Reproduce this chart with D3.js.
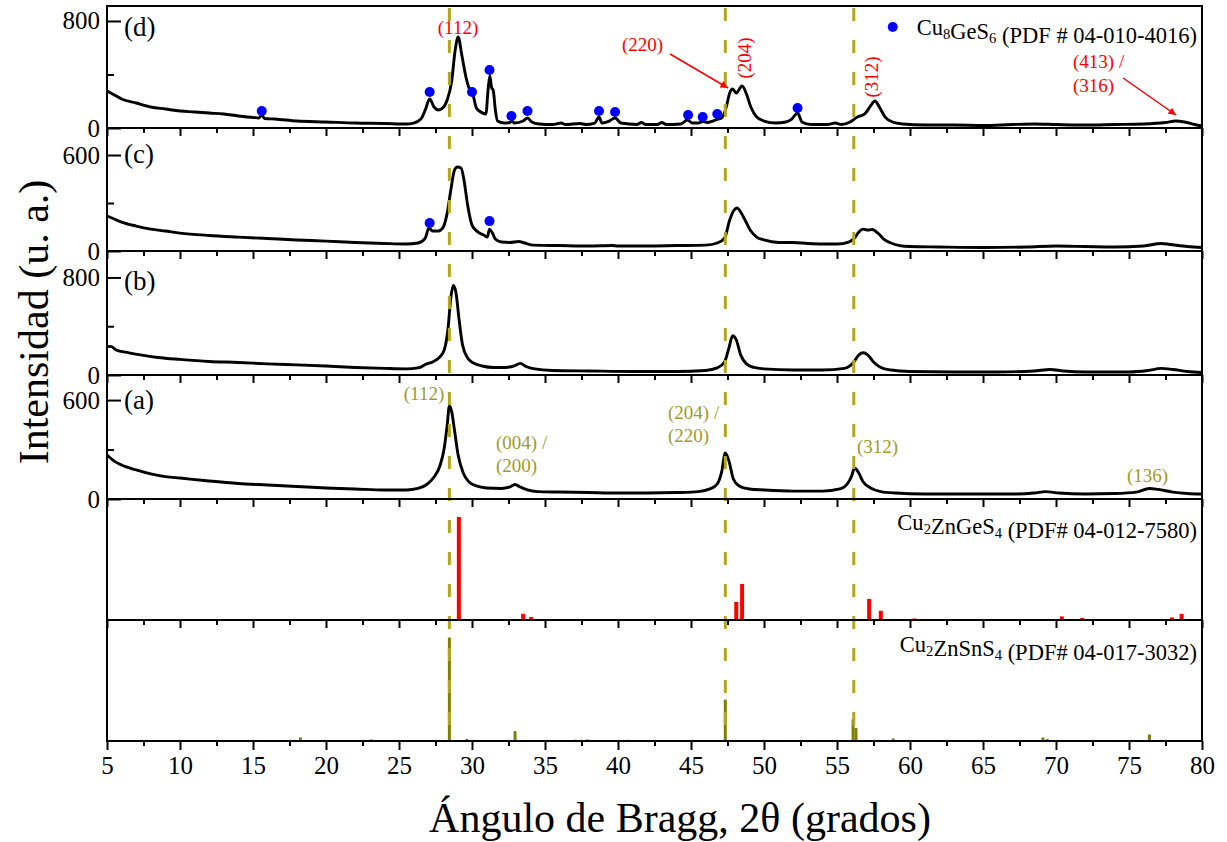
<!DOCTYPE html>
<html><head><meta charset="utf-8">
<script src="https://cdn.jsdelivr.net/npm/d3@7"></script>
<style>
body{margin:0;background:#fff}
svg text{font-family:'Liberation Serif',Tinos,'Times New Roman',Times,serif !important}
</style>
</head><body>
<svg id="chart" width="1227" height="842"></svg>
<script>
// ---------- DATA (2θ in degrees, intensity in a.u.) ----------
const patternD = [[5,277],[5.5,247],[6,217],[7,187],[8,157],[9,142],[10,127],[11,120],[12,112],[13,105],[14,90],[15,79],[15.4,75],[15.6,97],[15.8,71],[16.5,67],[18,52],[20,45],[22,37],[24,34],[25.5,30],[26,37],[26.5,67],[26.8,135],[27.1,217],[27.4,157],[27.7,135],[28,150],[28.3,209],[28.6,344],[28.85,583],[29.05,681],[29.3,546],[29.6,374],[29.85,284],[30.05,254],[30.3,150],[30.6,120],[30.95,105],[31.1,284],[31.22,389],[31.35,299],[31.45,284],[31.6,135],[31.75,52],[32.2,37],[32.6,41],[32.75,52],[32.9,37],[33.5,52],[33.8,75],[34.1,45],[34.6,30],[35.5,26],[36.1,37],[36.4,26],[37.4,34],[37.8,26],[38.4,37],[38.7,82],[38.9,37],[39.4,52],[39.8,75],[40.2,37],[41.3,26],[41.6,41],[41.9,26],[42.7,26],[43,41],[43.3,26],[44.3,30],[44.75,60],[45.1,37],[45.5,37],[45.8,49],[46.1,41],[46.5,52],[46.85,67],[47.1,75],[47.4,150],[47.65,262],[47.85,292],[48.1,262],[48.5,314],[48.8,254],[49.1,157],[49.5,82],[50,52],[50.8,37],[51.5,45],[51.9,67],[52.3,112],[52.6,45],[53.2,26],[54.3,26],[54.9,37],[55.3,26],[55.9,45],[56.4,82],[56.9,105],[57.3,165],[57.6,202],[57.9,157],[58.3,82],[58.8,45],[59.5,30],[61,22],[63,22],[65,19],[67,26],[68.5,30],[70,26],[72,22],[74,26],[76,30],[77.5,41],[78.2,52],[78.8,45],[79.5,26],[80,15]];
const patternC = [[5,219],[5.5,200],[6,181],[7,156],[8,137],[9,125],[10,112],[12,97],[14,87],[16,78],[18,69],[20,62],[22,53],[24,47],[25.5,44],[26.3,50],[26.8,81],[27.05,144],[27.3,125],[27.7,125],[28,144],[28.3,237],[28.55,381],[28.8,506],[29,525],[29.25,519],[29.45,444],[29.7,287],[30,162],[30.4,119],[30.8,100],[31.05,87],[31.2,137],[31.4,112],[31.6,75],[32,56],[32.6,53],[33.2,59],[33.6,50],[34.2,37],[36,34],[38,31],[39.6,34],[40,31],[42,31],[44,34],[46,37],[46.8,50],[47.3,81],[47.65,194],[47.95,256],[48.15,269],[48.4,244],[48.7,194],[49.1,125],[49.5,87],[50,69],[51,53],[52,53],[53,47],[54,44],[55,44],[55.8,56],[56.2,81],[56.5,119],[56.8,137],[57.1,131],[57.4,134],[57.8,112],[58.2,75],[58.7,50],[59.3,34],[60,28],[62,25],[65,22],[68,25],[70,31],[72,28],[74,25],[76,31],[77.2,47],[77.8,41],[79,28],[80,22]];
const patternB = [[5,235],[5.3,233],[5.6,206],[6.5,182],[7.5,161],[8.5,144],[10,128],[12,111],[14,103],[16,91],[18,83],[20,74],[22,62],[24,54],[25.5,50],[26.3,58],[26.9,91],[27.3,107],[27.8,149],[28.1,206],[28.35,371],[28.55,635],[28.72,734],[28.9,677],[29.1,470],[29.35,248],[29.7,140],[30.1,99],[30.7,74],[31.5,62],[32.3,62],[32.9,74],[33.3,95],[33.7,70],[34.3,50],[35.5,37],[38,33],[41,29],[44,29],[46,37],[46.8,58],[47.3,107],[47.6,223],[47.85,322],[48.1,289],[48.4,165],[48.8,91],[49.3,62],[50,50],[52,41],[54,41],[55.5,54],[56.1,99],[56.5,165],[56.8,182],[57.1,165],[57.5,107],[58,62],[58.7,41],[60,29],[63,25],[66,25],[68.5,33],[69.6,45],[70.5,33],[72,25],[75,25],[76.3,37],[77.2,54],[78,45],[79,29],[80,21]];
const patternA = [[5,267],[5.5,230],[6,206],[7,176],[8,152],[9,136],[10,127],[12,109],[14,94],[16,85],[18,76],[20,67],[22,61],[24,55],[25.5,55],[26.3,64],[26.9,88],[27.4,133],[27.8,200],[28.1,309],[28.3,448],[28.45,564],[28.6,533],[28.8,418],[29.05,267],[29.4,158],[29.8,103],[30.3,79],[31,67],[32,64],[32.6,73],[32.95,88],[33.3,73],[33.8,55],[34.5,45],[36,42],[38,39],[40,36],[42,36],[44,39],[45.5,45],[46.3,61],[46.8,91],[47.1,164],[47.35,279],[47.6,230],[47.9,121],[48.3,79],[49,61],[50,55],[52,48],[54,48],[55.2,61],[55.7,91],[56,139],[56.2,188],[56.45,164],[56.8,103],[57.3,67],[58,45],[59,36],[61,30],[64,30],[67,30],[68.5,36],[69.3,45],[70.2,36],[72,30],[74,33],[75.5,42],[76.4,64],[77,58],[78,42],[79,33],[80,30]];

// Cu8GeS6 markers (panel d and c)
const dotsD = [[15.6,127],[27.1,269],[30.0,269],[31.2,434],[32.7,90],[33.8,127],[38.7,127],[39.8,120],[44.8,97],[45.8,82],[46.8,105],[52.3,150]];
const dotsC = [[27.1,175],[31.2,187]];

// Reference patterns (relative intensity)
const refGe = [[16.85,0.8],[18.6,0.8],[29.1,100],[33.5,6],[34.05,3],[48.1,17.5],[48.5,35],[57.2,20.5],[58.0,9],[60.3,1.5],[63.4,0.8],[70.4,3.5],[71.8,2],[77.95,2.5],[78.6,6]];
const refSn = [[16.3,1],[18.25,3.5],[23.1,1.5],[28.45,100],[29.65,2],[32.95,9.5],[37.05,1.2],[37.9,1.5],[40.7,1.2],[44.8,1],[47.35,40],[50.5,1],[51.0,1],[53.2,1],[56.1,21],[56.3,12.5],[56.8,1],[58.85,2.5],[62.1,1],[64.1,1],[67.2,1],[69.1,3.4],[69.4,2],[71.9,1],[72.5,1],[73.9,1],[76.4,6.3],[76.8,1],[78.7,1]];

// Cu2ZnSnS4 reference positions (dashed guides)
const refLines = [28.45, 47.35, 56.15];

const xMajor = [5,10,15,20,25,30,35,40,45,50,55,60,65,70,75,80];
const xMinor = [7.5,12.5,17.5,22.5,27.5,32.5,37.5,42.5,47.5,52.5,57.5,62.5,67.5,72.5,77.5];

// ---------- LAYOUT ----------
const FONT = "'Liberation Serif',Tinos,'Times New Roman',Times,serif";
const svg = d3.select("#chart").attr("font-family",FONT);
const L = 107, R = 1202;
const bounds = [6,128,251,375,499,620,741];
const x = d3.scaleLinear().domain([5,80]).range([L,R]);

const samples = [
  {data:patternD, max:912, major:[0,800], minor:[400], tag:"(d)", tagY:36, dots:dotsD},
  {data:patternC, max:769, major:[0,600], minor:[300], tag:"(c)", tagY:163, dots:dotsC},
  {data:patternB, max:1017, major:[0,800], minor:[400], tag:"(b)", tagY:290, dots:[]},
  {data:patternA, max:752, major:[0,600], minor:[300], tag:"(a)", tagY:409, dots:[]}
];
samples.forEach((p,i)=>{
  p.y = d3.scaleLinear().domain([0,p.max]).range([bounds[i+1], bounds[i]]);
});
const yGe = d3.scaleLinear().domain([0,117.5]).range([bounds[5], bounds[4]]);
const ySn = d3.scaleLinear().domain([0,117]).range([bounds[6], bounds[5]]);

const olive = "#b3a51e", oliveText = "#a09b28", oliveBar = "#808000";

// x axes ticks at each panel bottom
for (let i=1;i<bounds.length;i++){
  const isBottom = i===bounds.length-1;
  const g = svg.append("g").attr("transform",`translate(0,${bounds[i]})`)
    .call(d3.axisBottom(x).tickValues(xMajor).tickSize(isBottom?9:8).tickSizeOuter(0)
      .tickPadding(6).tickFormat(isBottom? d3.format("d") : ""));
  g.attr("font-family",FONT);
  g.select(".domain").remove();
  g.selectAll(".tick line").attr("stroke","#000").attr("stroke-width",2);
  g.selectAll("text").attr("font-size",25).attr("fill","#000");
  const gm = svg.append("g").attr("transform",`translate(0,${bounds[i]})`)
    .call(d3.axisBottom(x).tickValues(xMinor).tickSize(5).tickSizeOuter(0).tickFormat(""));
  gm.select(".domain").remove();
  gm.selectAll(".tick line").attr("stroke","#000").attr("stroke-width",2);
}

// y axes for the sample panels
samples.forEach(p=>{
  const g = svg.append("g").attr("transform",`translate(${L},0)`)
    .call(d3.axisLeft(p.y).tickValues(p.major).tickSize(-14).tickSizeOuter(0).tickPadding(7).tickFormat(d3.format("d")));
  g.attr("font-family",FONT);
  g.select(".domain").remove();
  g.selectAll(".tick line").attr("stroke","#000").attr("stroke-width",2);
  g.selectAll("text").attr("font-size",25).attr("fill","#000");
  const gm = svg.append("g").attr("transform",`translate(${L},0)`)
    .call(d3.axisLeft(p.y).tickValues(p.minor).tickSize(-7).tickSizeOuter(0).tickFormat(""));
  gm.select(".domain").remove();
  gm.selectAll(".tick line").attr("stroke","#000").attr("stroke-width",2);
});

// reference bars
svg.append("g").selectAll("rect").data(refGe).join("rect")
  .attr("x",d=>x(d[0])-2).attr("width",4)
  .attr("y",d=>yGe(d[1])).attr("height",d=>yGe(0)-yGe(d[1]))
  .attr("fill","#ff0000");
svg.append("g").selectAll("rect").data(refSn).join("rect")
  .attr("x",d=>x(d[0])-1.5).attr("width",3)
  .attr("y",d=>ySn(d[1])).attr("height",d=>ySn(0)-ySn(d[1]))
  .attr("fill",oliveBar);

// sample curves
samples.forEach(p=>{
  const line = d3.line().x(d=>x(d[0])).y(d=>p.y(d[1])).curve(d3.curveMonotoneX);
  svg.append("path").datum(p.data).attr("d",line)
    .attr("fill","none").attr("stroke","#000").attr("stroke-width",2.9).attr("stroke-linejoin","round");
});

// dashed guides
svg.append("g").selectAll("line").data(refLines).join("line")
  .attr("x1",d=>x(d)).attr("x2",d=>x(d)).attr("y1",bounds[0]+2).attr("y2",bounds[6])
  .attr("stroke",olive).attr("stroke-width",3).attr("stroke-dasharray","13,19");

// markers
samples.forEach(p=>{
  svg.append("g").selectAll("circle").data(p.dots).join("circle")
    .attr("cx",d=>x(d[0])).attr("cy",d=>p.y(d[1])).attr("r",5).attr("fill","#0000ff");
});

// frame and separators
svg.append("rect").attr("x",L).attr("y",bounds[0]).attr("width",R-L).attr("height",bounds[6]-bounds[0])
  .attr("fill","none").attr("stroke","#000").attr("stroke-width",2);
bounds.slice(1,6).forEach(b=>{
  svg.append("line").attr("x1",L).attr("x2",R).attr("y1",b).attr("y2",b)
    .attr("stroke","#000").attr("stroke-width",2);
});

// panel tags
samples.forEach(p=>{
  svg.append("text").attr("x",124).attr("y",p.tagY).attr("font-size",27).text(p.tag);
});

// annotations helper
function label(xp,yp,txt,color,opts={}){
  const t = svg.append("text").attr("x",xp).attr("y",yp).attr("font-size",opts.size||19)
    .attr("fill",color).attr("text-anchor",opts.anchor||"start").text(txt);
  if(opts.rotate) t.attr("transform",`rotate(-90,${xp},${yp})`);
  return t;
}
const red = "#ff0000";
label(458,34,"(112)",red,{anchor:"middle"});
label(622,51,"(220)",red);
label(751,58,"(204)",red,{anchor:"middle",rotate:true});
label(878,77,"(312)",red,{anchor:"middle",rotate:true});
label(1073,68,"(413) /",red);
label(1073,92,"(316)",red);

svg.append("defs").append("marker").attr("id","arr").attr("viewBox","0 0 10 10")
  .attr("refX",10).attr("refY",5).attr("markerWidth",6).attr("markerHeight",5)
  .attr("markerUnits","strokeWidth").attr("orient","auto")
  .append("path").attr("d","M0,0 L10,5 L0,10 z").attr("fill",red);
[[670,54,728,88],[1123,78,1176,115]].forEach(a=>{
  svg.append("line").attr("x1",a[0]).attr("y1",a[1]).attr("x2",a[2]).attr("y2",a[3])
    .attr("stroke",red).attr("stroke-width",1.5).attr("marker-end","url(#arr)");
});

label(424,400,"(112)",oliveText,{anchor:"middle"});
label(496,449,"(004) /",oliveText);
label(496,472,"(200)",oliveText);
label(668,419,"(204) /",oliveText);
label(668,442,"(220)",oliveText);
label(857,453,"(312)",oliveText);
label(1127,482,"(136)",oliveText);

// formula labels with subscripts
function formula(yp, parts, size){
  const t = svg.append("text").attr("x",1197).attr("y",yp).attr("font-size",size).attr("text-anchor","end").attr("fill","#000");
  parts.forEach(pt=>{
    if(pt.sub){
      t.append("tspan").attr("font-size",size*0.65).attr("dy",4).text(pt.sub);
      t.append("tspan").attr("dy",-4).text("");
    } else t.append("tspan").text(pt.t);
  });
  return t;
}
const leg = formula(35,[{t:"Cu"},{sub:"8"},{t:"GeS"},{sub:"6"},{t:" (PDF # 04-010-4016)"}],22.5);
const lb = leg.node().getBBox();
svg.append("circle").attr("cx",lb.x-24).attr("cy",27).attr("r",5).attr("fill","#0000ff");
formula(530,[{t:"Cu"},{sub:"2"},{t:"ZnGeS"},{sub:"4"},{t:" (PDF# 04-012-7580)"}],22.5);
formula(652,[{t:"Cu"},{sub:"2"},{t:"ZnSnS"},{sub:"4"},{t:" (PDF# 04-017-3032)"}],22.5);

// axis titles
svg.append("text").attr("x",680).attr("y",832).attr("text-anchor","middle").attr("font-size",42)
  .text("Ángulo de Bragg, 2θ (grados)");
svg.append("text").attr("transform","translate(48,322) rotate(-90)").attr("text-anchor","middle")
  .attr("font-size",42).text("Intensidad (u. a.)");
</script>
</body></html>
